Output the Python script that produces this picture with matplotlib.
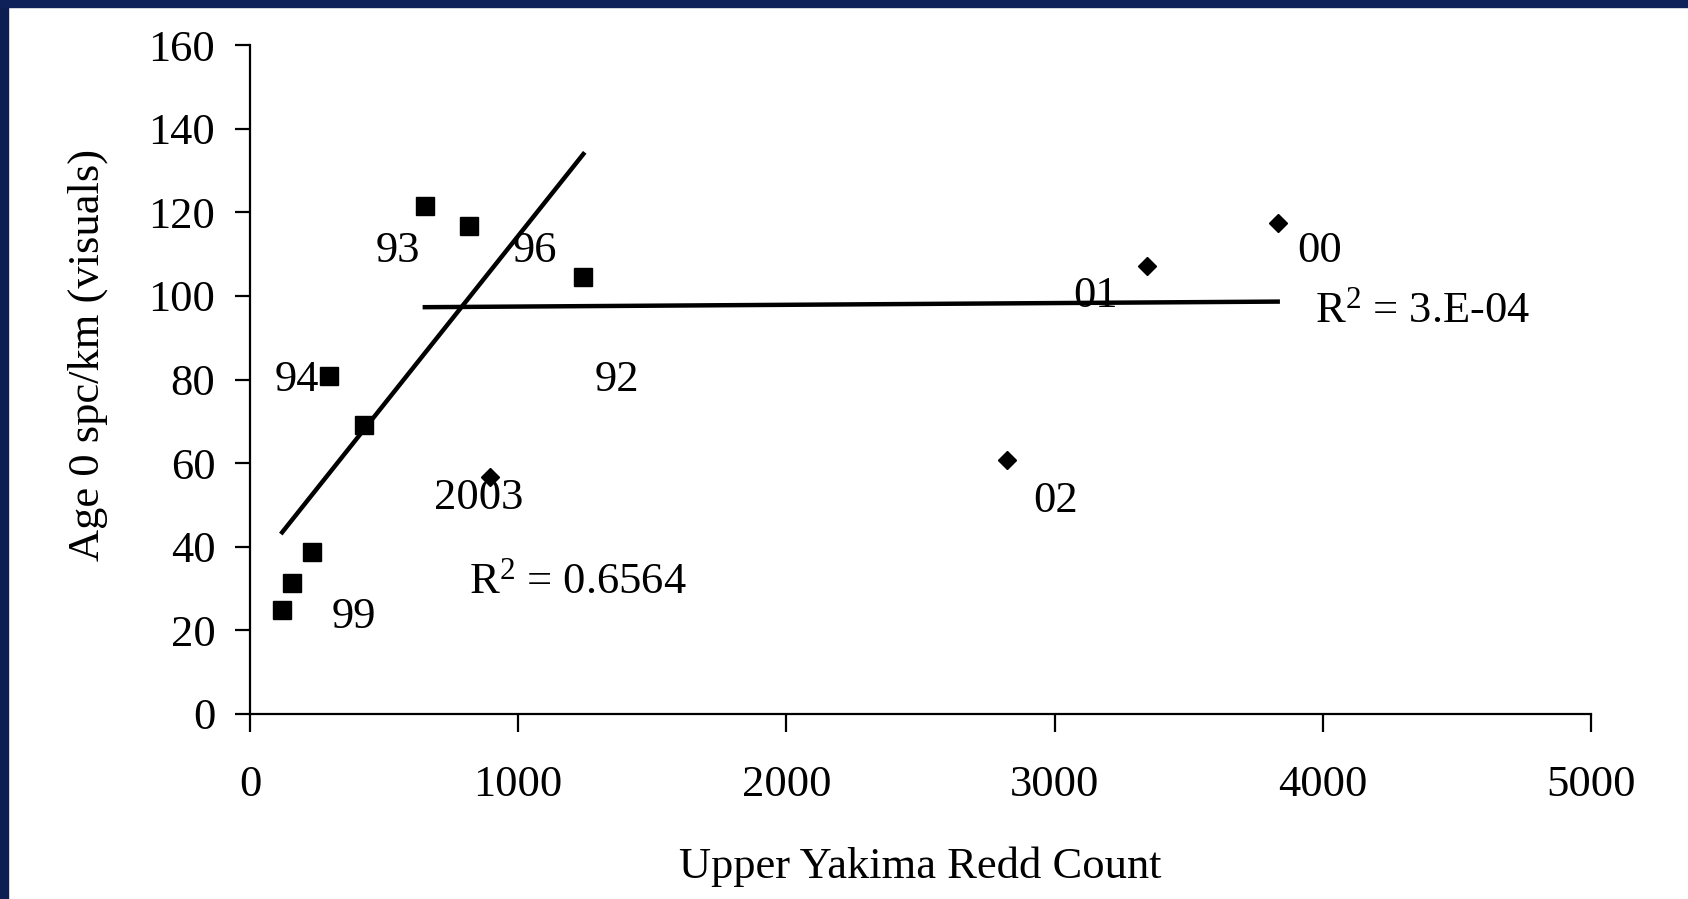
import numpy as np
import matplotlib
matplotlib.use("Agg")
import matplotlib.pyplot as plt
from matplotlib.patches import Rectangle

plt.rcParams['font.family'] = ['Liberation Serif', 'DejaVu Serif']
plt.rcParams['mathtext.fontset'] = 'custom'
plt.rcParams['mathtext.rm'] = 'Liberation Serif'
plt.rcParams['mathtext.default'] = 'regular'

# square points (all years on the steep trend)
sq_x = [120, 155, 230, 296, 426, 652, 818, 1243]
sq_y = [24.9, 31.3, 38.8, 80.9, 69.1, 121.4, 116.7, 104.6]

# diamond points
dm_x = [894, 2821, 3346, 3832]
dm_y = [56.7, 60.8, 107.2, 117.5]

# second trend series: three high squares + diamonds
fl_x = [652, 818, 1243] + dm_x
fl_y = [121.4, 116.7, 104.6] + dm_y

labels = ["93", "96", "92", "94", "99", "2003", "02", "01", "00"]
label_pos = [(552, 110.8), (1063, 110.8), (1368, 79.9), (175, 79.9),
             (388, 23.2), (854, 51.7), (3005, 51.0), (3154, 100.0),
             (3990, 110.8)]

r2_steep = "0.6564"
r2_flat = "3.E-04"

fs = 32

fig = plt.figure(figsize=(16.88, 8.99), dpi=100)
fig.patch.set_facecolor('white')
# dark blue slide border on top and left
fig.patches.append(Rectangle((0, 0), 0.0045, 1, transform=fig.transFigure,
                             color='#0d1f52', zorder=0))
fig.patches.append(Rectangle((0, 0.992), 1, 0.008, transform=fig.transFigure,
                             color='#0e2158', zorder=0))

ax = fig.add_axes([0.1481, 0.2058, 0.7944, 0.7441])

ax.plot(sq_x, sq_y, 's', color='black', markersize=13.5, zorder=3)
ax.plot(dm_x, dm_y, 'D', color='black', markersize=9.5, zorder=3)

# linear trendlines
p1 = np.polyfit(sq_x, sq_y, 1)
xs1 = np.array([min(sq_x), max(sq_x)])
ax.plot(xs1, np.polyval(p1, xs1), color='black', linewidth=3.2)

p2 = np.polyfit(fl_x, fl_y, 1)
xs2 = np.array([min(fl_x), max(fl_x)])
ax.plot(xs2, np.polyval(p2, xs2), color='black', linewidth=3.2)

for lab, (lx, ly) in zip(labels, label_pos):
    ax.text(lx, ly, lab, fontsize=fs, ha='center', va='center', color='black')

ax.text(817, 31.6, r"R$^{2}$ = " + r2_steep, fontsize=fs, ha='left', va='center')
ax.text(3971, 96.4, r"R$^{2}$ = " + r2_flat, fontsize=fs, ha='left', va='center')

ax.set_xlim(0, 5000)
ax.set_ylim(0, 160)
ax.set_xticks(np.arange(0, 5001, 1000))
ax.set_yticks(np.arange(0, 161, 20))
ax.spines['top'].set_visible(False)
ax.spines['right'].set_visible(False)
ax.spines['left'].set_linewidth(1.6)
ax.spines['bottom'].set_linewidth(1.6)
ax.tick_params(axis='x', direction='out', length=13, width=1.6, pad=24, labelsize=fs)
ax.tick_params(axis='y', direction='out', length=11, width=1.6, pad=14, labelsize=fs)

ax.set_xlabel("Upper Yakima Redd Count", fontsize=fs, va='center')
ax.set_ylabel("Age 0 spc/km (visuals)", fontsize=fs, va='center')
ax.xaxis.set_label_coords(0.5, -0.228)
ax.yaxis.set_label_coords(-0.121, 0.537)

fig.savefig("out.png", dpi=100)
